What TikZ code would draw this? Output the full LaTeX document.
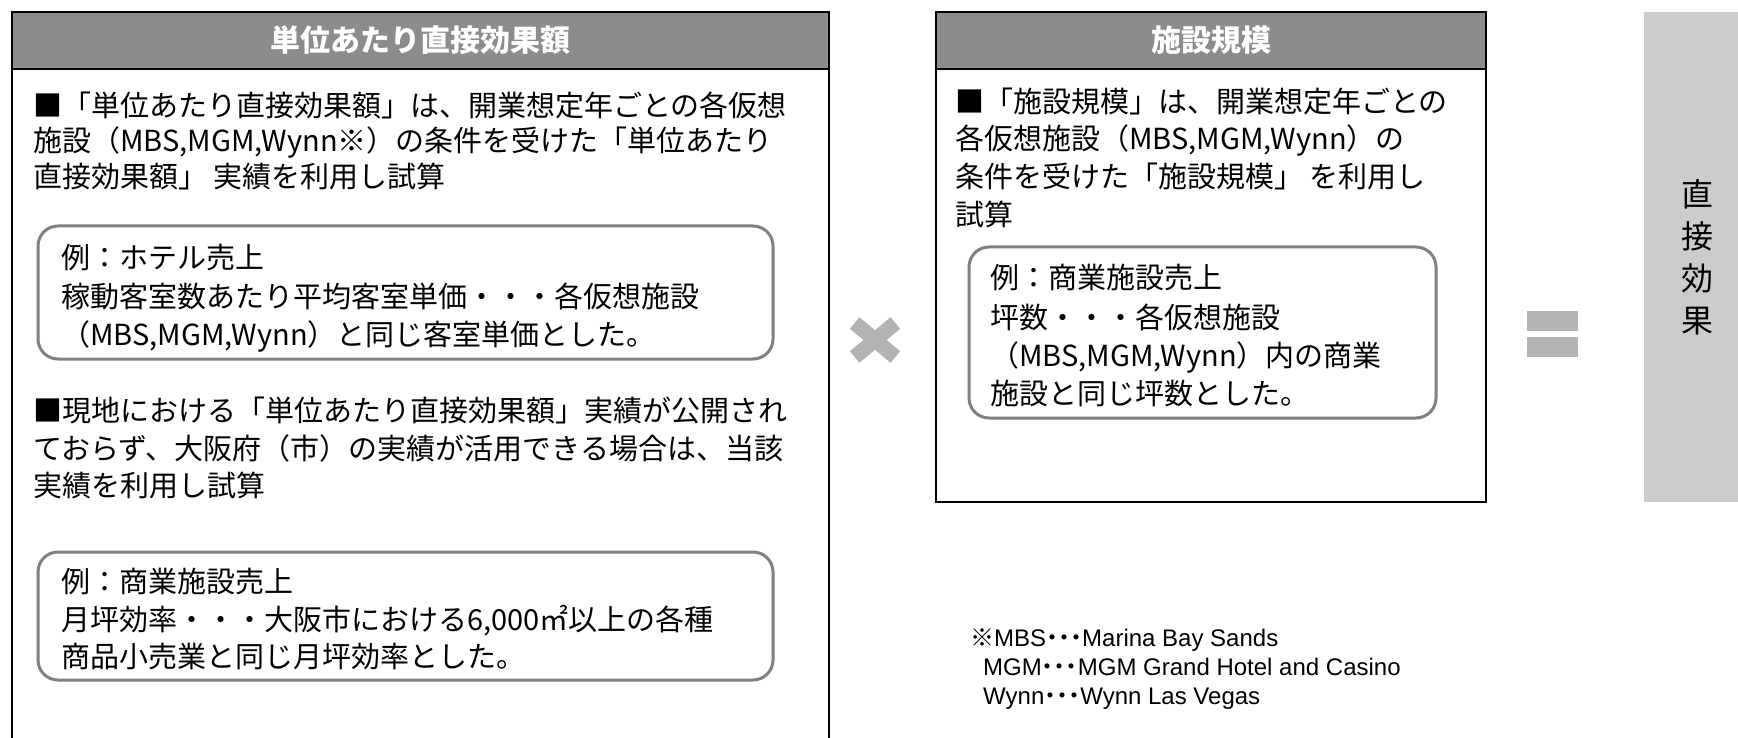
\documentclass[tikz,border=0pt]{standalone}
\usepackage{fontspec}
\setmainfont{Liberation Sans}
\newfontfamily\jp{Noto Sans CJK JP}
\newfontfamily\jpp{Noto Sans CJK JP}[RawFeature=+palt]
\definecolor{hdr}{HTML}{8C8C8C}
\definecolor{sym}{HTML}{B3B3B3}
\definecolor{res}{HTML}{CCCCCC}
\definecolor{rbox}{HTML}{808080}
\tikzset{
  outer/.style={draw=black, line width=2.2pt},
  hdrbox/.style={fill=hdr, draw=black, line width=2.2pt},
  hdrtext/.style={text=white, font=\jp\bfseries\fontsize{30}{30}\selectfont, inner sep=0pt},
  body/.style={font=\jp\fontsize{29}{29}\selectfont, anchor=base west, inner sep=0pt, text height=24pt, text depth=5pt},
  exbox/.style={draw=rbox, line width=3pt, rounded corners=20pt},
  note/.style={font=\fontsize{24}{24}\selectfont, anchor=base west, inner sep=0pt, text height=18pt, text depth=4pt},
  vtext/.style={font=\jp\fontsize{32}{32}\selectfont, inner sep=0pt},
  symfill/.style={fill=sym},
}
\begin{document}
\begin{tikzpicture}[x=1pt,y=-1pt]
\useasboundingbox (0,0) rectangle (1738,738);
\clip (0,0) rectangle (1738,738);

% ---------- left panel ----------
\draw[outer] (12,12) rectangle (829,770);
\draw[hdrbox] (12,12) rectangle (829,69);
\node[hdrtext] (lhead) at (420.5,40.5) {単位あたり直接効果額};

\node[body] (la1) at (33,117) {■「単位あたり直接効果額」は、開業想定年ごとの各仮想};
\node[body] (la2) at (33,152) {施設（MBS,MGM,Wynn※）の条件を受けた「単位あたり};
\node[body] (la3) at (33,188) {直接効果額」 実績を利用し試算};

\draw[exbox] (38,226) rectangle (773,359);
\node[body] (lb1) at (61,269) {例：ホテル売上};
\node[body] (lb2) at (61,307) {稼動客室数あたり平均客室単価・・・各仮想施設};
\node[body] (lb3) at (61,345) {（MBS,MGM,Wynn）と同じ客室単価とした。};

\node[body] (lc1) at (33,421) {■現地における「単位あたり直接効果額」実績が公開され};
\node[body] (lc2) at (33,459) {ておらず、大阪府（市）の実績が活用できる場合は、当該};
\node[body] (lc3) at (33,496) {実績を利用し試算};

\draw[exbox] (38,552) rectangle (773,680);
\node[body] (ld1) at (61,592) {例：商業施設売上};
\node[body] (ld2) at (61,630) {月坪効率・・・大阪市における6,000㎡以上の各種};
\node[body] (ld3) at (61,667) {商品小売業と同じ月坪効率とした。};

% ---------- multiply sign ----------
\fill[symfill, rotate around={40:(875,340)}] (848.5,332.5) rectangle (901.5,347.5);
\fill[symfill, rotate around={-40:(875,340)}] (848.5,332.5) rectangle (901.5,347.5);

% ---------- right panel ----------
\draw[outer] (936,12) rectangle (1486,502);
\draw[hdrbox] (936,12) rectangle (1486,69);
\node[hdrtext] (rhead) at (1211,40.5) {施設規模};

\node[body] (ra1) at (955,113) {■「施設規模」は、開業想定年ごとの};
\node[body] (ra2) at (955,150) {各仮想施設（MBS,MGM,Wynn）の};
\node[body] (ra3) at (955,188) {条件を受けた「施設規模」 を利用し};
\node[body] (ra4) at (955,226) {試算};

\draw[exbox] (969,247) rectangle (1436,418);
\node[body] (rb1) at (990,288) {例：商業施設売上};
\node[body] (rb2) at (990,328) {坪数・・・各仮想施設};
\node[body] (rb3) at (990,366) {（MBS,MGM,Wynn）内の商業};
\node[body] (rb4) at (990,404) {施設と同じ坪数とした。};

% ---------- equals sign ----------
\fill[symfill] (1527,311) rectangle (1578,331);
\fill[symfill] (1527,337) rectangle (1578,357);

% ---------- result ----------
\fill[res] (1644,12) rectangle (1760,502);
\node[vtext] (v1) at (1697,194) {直};
\node[vtext] (v2) at (1697,236) {接};
\node[vtext] (v3) at (1697,278) {効};
\node[vtext] (v4) at (1697,321) {果};

% ---------- footnote ----------
\node[note] (n1) at (970,646) {{\jpp ※}MBS{\jpp ・・・}Marina Bay Sands};
\node[note] (n2) at (983,675) {MGM{\jpp ・・・}MGM Grand Hotel and Casino};
\node[note] (n3) at (983,704) {Wynn{\jpp ・・・}Wynn Las Vegas};
\end{tikzpicture}
\end{document}
